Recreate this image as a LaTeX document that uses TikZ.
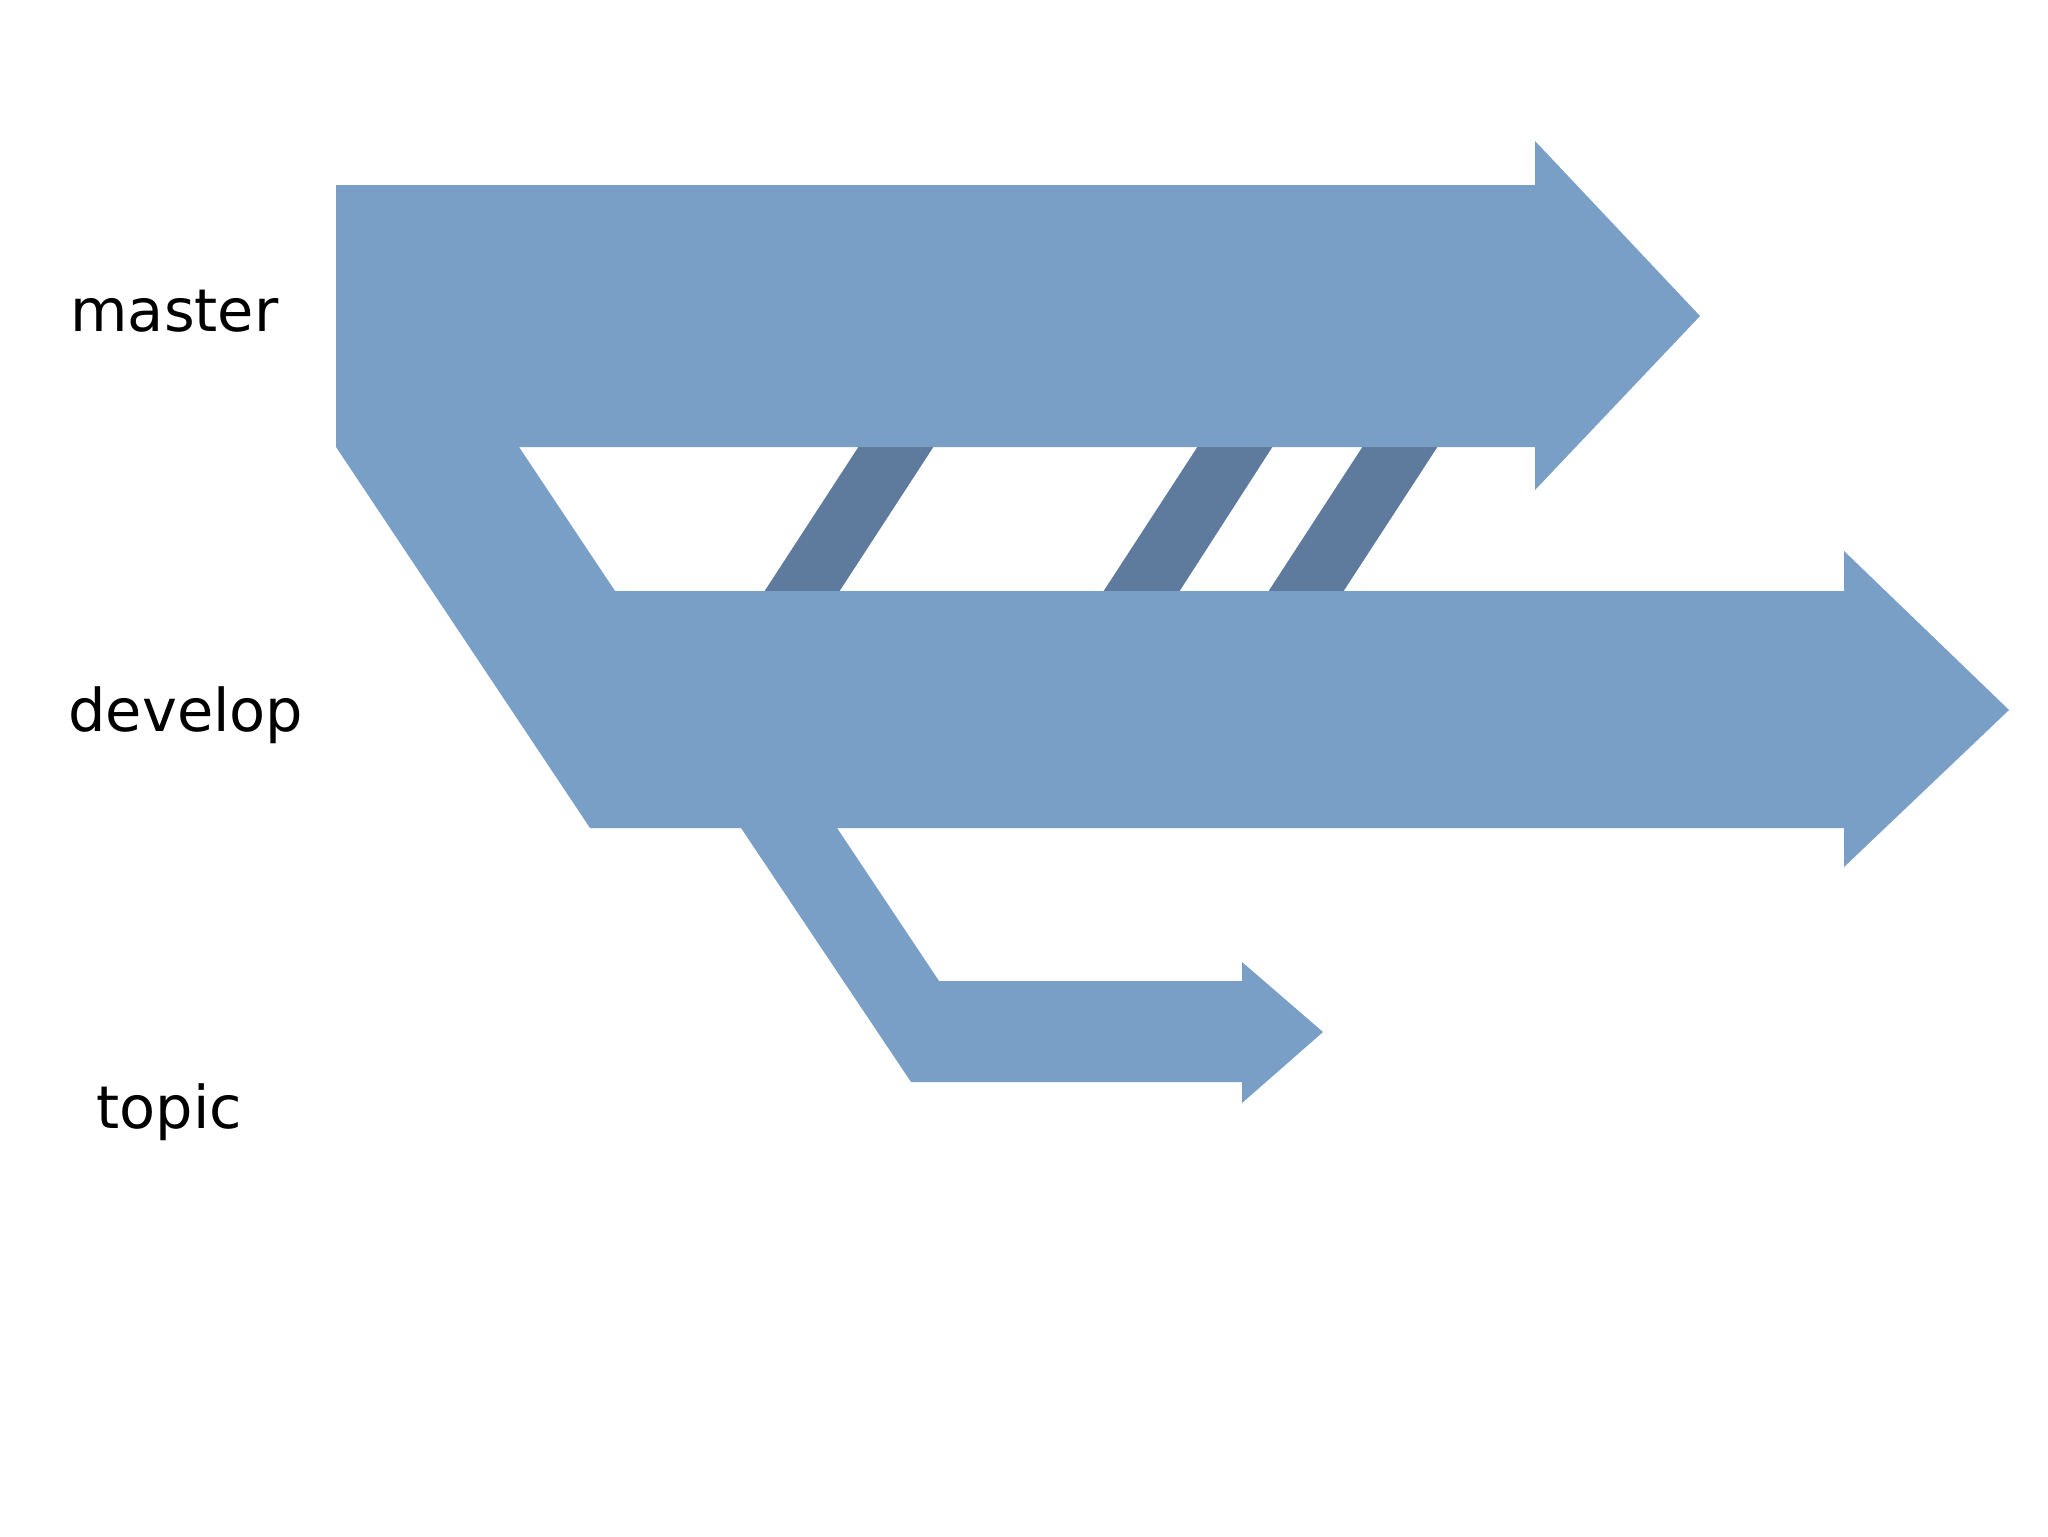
\documentclass[tikz,border=0pt]{standalone}
\usepackage{fontspec}
\setmainfont{DejaVu Sans}
\definecolor{branch}{RGB}{121,159,199}
\definecolor{merge}{RGB}{94,122,156}
\begin{document}
\begin{tikzpicture}[x=0.5pt,y=-0.5pt,
  branchfill/.style={fill=branch,draw=none},
  mergefill/.style={fill=merge,draw=none},
  label/.style={anchor=base west,inner sep=0pt,font=\fontsize{29.5}{34}\selectfont}]
\useasboundingbox[fill=white] (0,0) rectangle (2048,1536);
% merge stripes develop -> master
\fill[mergefill] (764,592) -- (839,592) -- (934,446) -- (859,446) -- cycle;
\fill[mergefill] (1103,592) -- (1179,592) -- (1273,446) -- (1198,446) -- cycle;
\fill[mergefill] (1268,592) -- (1343,592) -- (1438,446) -- (1363,446) -- cycle;
% master, develop and topic branches as one outline
\fill[branchfill]
  (336,185) -- (1535,185) -- (1535,141) -- (1700,316) -- (1535,490) -- (1535,447)
  -- (519,447) -- (615,591)
  -- (1844,591) -- (1844,551) -- (2009,710) -- (1844,867) -- (1844,828)
  -- (837,828) -- (939,981)
  -- (1242,981) -- (1242,962) -- (1323,1032) -- (1242,1103) -- (1242,1082)
  -- (911,1082) -- (741,828)
  -- (590,828) -- (336,447) -- cycle;
% labels
\node[label] (master) at (70,331) {master};
\node[label] (develop) at (68,731) {develop};
\node[label] (topic) at (96,1128) {topic};
\end{tikzpicture}
\end{document}
